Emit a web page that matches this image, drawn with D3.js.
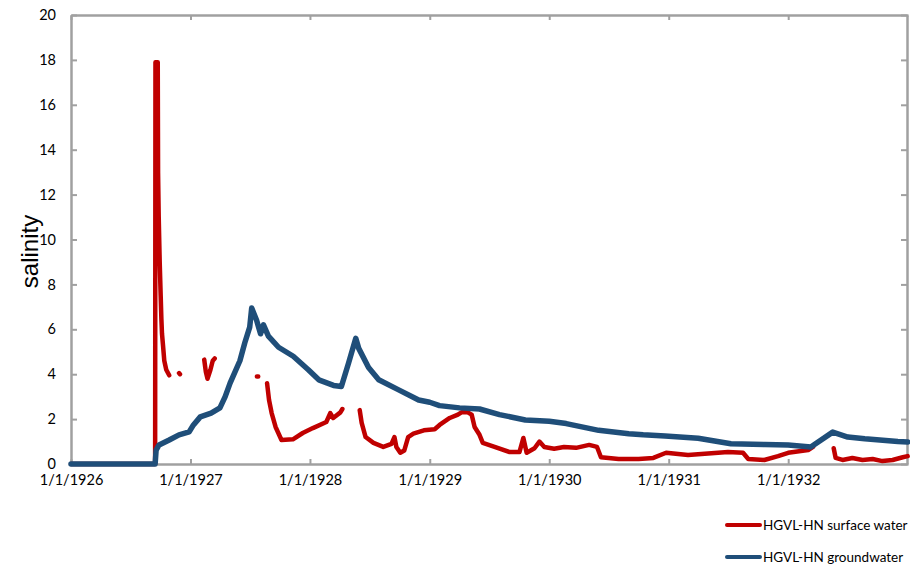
<!DOCTYPE html>
<html>
<head>
<meta charset="utf-8">
<script src="https://cdn.jsdelivr.net/npm/d3@7"></script>
<style>
  body { margin: 0; background: #fff; }
  svg { display: block; }
</style>
</head>
<body>
<div id="chart"></div>
<script>
// series values: [date, salinity], null = gap
const surfaceWater = [
  ["1926-01-01", 0], ["1926-09-15", 0], ["1926-09-16", 17.9], ["1926-09-23", 17.9],
  ["1926-09-24", 13], ["1926-09-26", 11], ["1926-09-29", 9], ["1926-10-02", 7.5],
  ["1926-10-04", 6.5], ["1926-10-06", 5.8], ["1926-10-09", 5.3], ["1926-10-13", 4.6],
  ["1926-10-19", 4.2], ["1926-10-28", 3.95], null,
  ["1926-11-27", 4.05], ["1926-11-30", 4.0], null,
  ["1927-02-12", 4.65], ["1927-02-17", 4.1], ["1927-02-22", 3.8], ["1927-03-03", 4.2],
  ["1927-03-10", 4.6], ["1927-03-16", 4.7], null,
  ["1927-07-23", 3.9], ["1927-07-27", 3.9], null,
  ["1927-08-23", 3.6], ["1927-08-29", 2.85], ["1927-09-06", 2.27], ["1927-09-18", 1.65],
  ["1927-10-06", 1.07], ["1927-11-10", 1.1], ["1927-12-10", 1.38], ["1928-01-10", 1.6],
  ["1928-02-20", 1.87], ["1928-03-03", 2.27], ["1928-03-12", 2.05], ["1928-04-03", 2.3],
  ["1928-04-09", 2.45], null,
  ["1928-06-01", 2.4], ["1928-06-07", 1.83], ["1928-06-19", 1.2], ["1928-07-13", 0.94],
  ["1928-08-12", 0.76], ["1928-09-06", 0.9], ["1928-09-15", 1.2], ["1928-09-21", 0.76],
  ["1928-10-03", 0.5], ["1928-10-15", 0.6], ["1928-10-27", 1.2], ["1928-11-12", 1.35],
  ["1928-12-14", 1.5], ["1929-01-16", 1.55], ["1929-01-31", 1.74], ["1929-03-03", 2.05],
  ["1929-03-28", 2.2], ["1929-04-08", 2.3], ["1929-04-27", 2.3], ["1929-05-09", 2.2],
  ["1929-05-18", 1.65], ["1929-06-02", 1.3], ["1929-06-12", 0.94], ["1929-07-18", 0.76],
  ["1929-09-02", 0.53], ["1929-10-02", 0.53], ["1929-10-14", 1.16], ["1929-10-24", 0.5],
  ["1929-11-17", 0.7], ["1929-12-02", 1.0], ["1929-12-17", 0.76], ["1930-01-16", 0.68],
  ["1930-02-15", 0.76], ["1930-03-24", 0.72], ["1930-05-03", 0.85], ["1930-05-27", 0.76],
  ["1930-06-08", 0.3], ["1930-08-01", 0.22], ["1930-10-01", 0.22], ["1930-11-15", 0.27],
  ["1930-12-24", 0.5], ["1931-03-01", 0.4], ["1931-06-01", 0.5], ["1931-07-01", 0.53],
  ["1931-08-16", 0.5], ["1931-09-01", 0.22], ["1931-10-20", 0.18], ["1931-12-01", 0.35],
  ["1932-01-01", 0.5], ["1932-03-02", 0.62], ["1932-03-17", 0.76], null,
  ["1932-05-19", 0.7], ["1932-05-25", 0.27], ["1932-06-15", 0.18], ["1932-07-15", 0.27],
  ["1932-08-15", 0.18], ["1932-09-15", 0.22], ["1932-10-15", 0.13], ["1932-11-15", 0.18],
  ["1932-12-16", 0.3], ["1932-12-31", 0.35]
];

const groundwater = [
  ["1926-01-01", 0], ["1926-09-15", 0], ["1926-09-18", 0.62], ["1926-09-27", 0.85],
  ["1926-10-28", 1.07], ["1926-11-27", 1.3], ["1926-12-28", 1.43], ["1927-01-10", 1.74],
  ["1927-01-31", 2.1], ["1927-03-05", 2.27], ["1927-04-01", 2.5], ["1927-04-17", 3.0],
  ["1927-05-02", 3.6], ["1927-06-01", 4.6], ["1927-06-16", 5.4], ["1927-07-01", 6.1],
  ["1927-07-07", 6.95], ["1927-07-22", 6.4], ["1927-08-03", 5.8], ["1927-08-12", 6.2],
  ["1927-08-27", 5.7], ["1927-09-27", 5.2], ["1927-11-11", 4.8], ["1927-12-27", 4.2],
  ["1928-01-28", 3.75], ["1928-03-13", 3.5], ["1928-04-06", 3.45], ["1928-04-28", 4.5],
  ["1928-05-20", 5.6], ["1928-05-29", 5.15], ["1928-06-28", 4.3], ["1928-07-29", 3.75],
  ["1928-09-28", 3.3], ["1928-11-28", 2.85], ["1929-01-01", 2.75], ["1929-01-31", 2.6],
  ["1929-04-02", 2.5], ["1929-06-02", 2.45], ["1929-08-02", 2.2], ["1929-10-20", 1.96],
  ["1930-01-01", 1.9], ["1930-02-22", 1.8], ["1930-06-01", 1.5], ["1930-09-01", 1.35],
  ["1930-10-15", 1.3], ["1930-12-21", 1.25], ["1931-04-01", 1.15], ["1931-07-10", 0.9],
  ["1931-10-22", 0.87], ["1932-01-01", 0.85], ["1932-03-10", 0.76], ["1932-05-16", 1.42],
  ["1932-07-01", 1.2], ["1932-08-22", 1.12], ["1932-12-01", 1.0], ["1932-12-31", 0.98]
];

const yTicks = [0, 2, 4, 6, 8, 10, 12, 14, 16, 18, 20];
const xTicks = ["1926-01-01", "1927-01-01", "1928-01-01", "1929-01-01", "1930-01-01", "1931-01-01", "1932-01-01"];

const legendItems = [
  { name: "HGVL-HN surface water", color: "#c00000" },
  { name: "HGVL-HN groundwater", color: "#1f4e79" }
];

const width = 910, height = 566;
const margin = { top: 15, right: 2, bottom: 102, left: 71 };
const parse = d3.timeParse("%Y-%m-%d");
const fmt = d => (d.getMonth() + 1) + "/" + d.getDate() + "/" + d.getFullYear();

const svg = d3.select("#chart").append("svg")
  .attr("width", width)
  .attr("height", height);

const x = d3.scaleTime()
  .domain([parse("1926-01-01"), parse("1933-01-01")])
  .range([margin.left, width - margin.right]);
const y = d3.scaleLinear()
  .domain([0, 20])
  .range([height - margin.bottom, margin.top]);

const tickFont = "Lato, 'Open Sans', sans-serif";

// frame with inward ticks
const xAxis = svg.append("g")
  .attr("transform", `translate(0,${y(0)})`)
  .call(d3.axisBottom(x).tickValues(xTicks.map(parse)).tickFormat(fmt).tickSizeInner(-5).tickSizeOuter(0).tickPadding(11));
const xTop = svg.append("g")
  .attr("transform", `translate(0,${y(20)})`)
  .call(d3.axisTop(x).tickValues(xTicks.map(parse)).tickFormat("").tickSizeInner(-5).tickSizeOuter(0));
const yAxis = svg.append("g")
  .attr("transform", `translate(${x.range()[0]},0)`)
  .call(d3.axisLeft(y).tickValues(yTicks).tickSizeInner(-6).tickSizeOuter(0).tickPadding(15));
const yRight = svg.append("g")
  .attr("transform", `translate(${x.range()[1] - 1},0)`)
  .call(d3.axisRight(y).tickValues(yTicks).tickFormat("").tickSizeInner(-6).tickSizeOuter(0));

[xAxis, xTop, yAxis, yRight].forEach(g => {
  g.selectAll("path.domain").attr("stroke", "#a0a0a0").attr("stroke-width", 2.5);
  g.selectAll(".tick line").attr("stroke", "#a0a0a0").attr("stroke-width", 2);
  g.selectAll("text").attr("fill", "#000").style("font-family", tickFont).style("font-size", "14.5px");
});

svg.append("text")
  .attr("transform", `translate(38,${(y(0) + y(20)) / 2 + 12}) rotate(-90)`)
  .attr("text-anchor", "middle")
  .style("font-family", "'Liberation Sans', Arial, sans-serif")
  .style("font-size", "24px")
  .text("salinity");

const line = d3.line()
  .defined(d => d !== null)
  .x(d => x(parse(d[0])))
  .y(d => y(d[1]));

svg.append("path")
  .datum(surfaceWater)
  .attr("fill", "none")
  .attr("stroke", legendItems[0].color)
  .attr("stroke-width", 4.5)
  .attr("stroke-linejoin", "round")
  .attr("stroke-linecap", "round")
  .attr("d", line);

svg.append("path")
  .datum(groundwater)
  .attr("fill", "none")
  .attr("stroke", legendItems[1].color)
  .attr("stroke-width", 5.5)
  .attr("stroke-linejoin", "round")
  .attr("stroke-linecap", "round")
  .attr("d", line);

// legend
const legend = svg.selectAll("g.legend")
  .data(legendItems)
  .enter().append("g")
  .attr("class", "legend")
  .attr("transform", (d, i) => `translate(727,${525 + i * 32})`);
legend.append("line")
  .attr("x1", 0).attr("x2", 33)
  .attr("stroke", d => d.color)
  .attr("stroke-width", 4)
  .attr("stroke-linecap", "round");
legend.append("text")
  .attr("x", 36).attr("y", 5)
  .style("font-family", tickFont)
  .style("font-size", "13.5px")
  .text(d => d.name);
</script>
</body>
</html>
